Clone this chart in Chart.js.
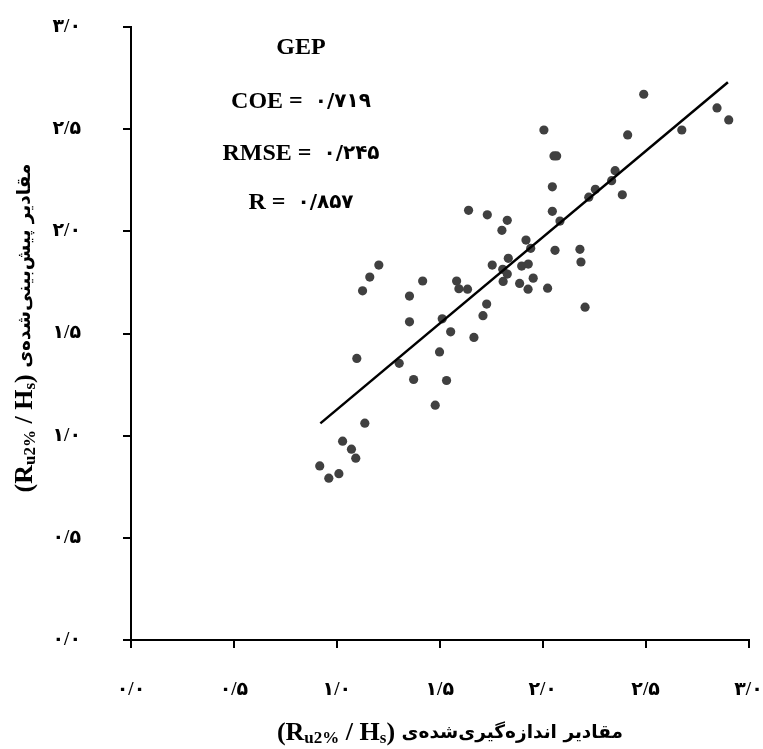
<!DOCTYPE html>
<html>
<head>
<meta charset="utf-8">
<script src="https://cdn.jsdelivr.net/npm/chart.js@4"></script>
<style>
    body { margin: 0; background: #fff; }
    #wrap { width: 763px; height: 749px; }
</style>
</head>
<body>
<div id="wrap"><canvas id="myChart" width="763" height="749"></canvas></div>
<script>
// --- DATA ---
// nilai terukur (sumbu x) dan prediksi GEP (sumbu y)
const xMeasured = [2.491, 2.847, 2.904, 2.676, 2.006, 2.413, 2.055, 2.068, 2.352, 2.335, 2.256, 2.224, 2.387, 2.047, 2.047, 2.084,
    1.640, 1.731, 1.828, 1.802, 1.919, 1.942, 2.060, 2.181, 2.186, 1.833, 1.755, 1.806, 1.898, 1.930, 1.828, 1.808,
    1.888, 1.954, 1.929, 2.024, 2.206, 1.204, 1.160, 1.125, 1.417, 1.582, 1.593, 1.635, 1.353, 1.728, 1.353, 1.512,
    1.710, 1.553, 1.666, 1.097, 1.303, 1.499, 1.373, 1.533, 1.478, 1.136, 1.028, 1.071, 1.092, 0.917, 0.961, 1.010];
const yPredicted = [2.671, 2.604, 2.545, 2.496, 2.496, 2.472, 2.369, 2.369, 2.297, 2.248, 2.206, 2.167, 2.179, 2.218, 2.098, 2.050,
    2.103, 2.081, 2.054, 2.005, 1.957, 1.917, 1.907, 1.912, 1.850, 1.868, 1.835, 1.814, 1.830, 1.840, 1.791, 1.755,
    1.745, 1.771, 1.717, 1.722, 1.629, 1.835, 1.776, 1.709, 1.757, 1.757, 1.719, 1.717, 1.683, 1.644, 1.557, 1.572,
    1.587, 1.508, 1.481, 1.378, 1.354, 1.410, 1.275, 1.270, 1.149, 1.061, 0.973, 0.934, 0.890, 0.852, 0.792, 0.814];

// garis tren (ujung)
const trendX = [0.92, 2.90];
const trendY = [1.06, 2.73];

const tickLabels = ['۰/۰', '۰/۵', '۱/۰', '۱/۵', '۲/۰', '۲/۵', '۳/۰'];

const modelName = 'GEP';
const statNames = ['COE', 'RMSE', 'R'];
const statValues = ['۰/۷۱۹', '۰/۲۴۵', '۰/۸۵۷'];

const xTitleFa = 'مقادیر اندازه‌گیری‌شده‌ی';
const yTitleFa = 'مقادیر پیش‌بینی‌شده‌ی';

// --- CONFIG ---
const FONT = "'Liberation Serif', 'Times New Roman', 'DejaVu Sans', serif";
const FA_FONT = "'DejaVu Sans', sans-serif";

const points = xMeasured.map((x, i) => ({ x: x, y: yPredicted[i] }));
const trend = trendX.map((x, i) => ({ x: x, y: trendY[i] }));

// tulis beberapa potongan teks berurutan, di tengah (cx, cy)
function drawRuns(ctx, cx, cy, rotate, parts) {
    ctx.save();
    ctx.translate(cx, cy);
    if (rotate) ctx.rotate(-Math.PI / 2);
    ctx.textBaseline = 'middle';
    ctx.textAlign = 'left';
    ctx.fillStyle = '#000';
    let total = 0;
    parts.forEach(p => { ctx.font = p.f; p.w = ctx.measureText(p.t).width; total += p.w; });
    let x = -total / 2;
    parts.forEach(p => {
        ctx.font = p.f;
        ctx.fillText(p.t, x, p.dy || 0);
        x += p.w;
    });
    ctx.restore();
}

// judul sumbu dengan subskrip: (R u2% / H s) + teks Persia
function axisTitleParts(faText) {
    const big = 'bold 26px ' + FONT;
    const small = 'bold 17px ' + FONT;
    return [
        { t: '(R', f: big },
        { t: 'u2%', f: small, dy: 6 },
        { t: ' / H', f: big },
        { t: 's', f: small, dy: 6 },
        { t: ') ', f: big },
        { t: faText, f: 'bold 18.5px ' + FA_FONT }
    ];
}

const decorPlugin = {
    id: 'decor',
    afterDraw(chart) {
        const ctx = chart.ctx;

        // judul sumbu
        drawRuns(ctx, 450, 733, false, axisTitleParts(xTitleFa));
        drawRuns(ctx, 25, 328, true, axisTitleParts(yTitleFa));

        // kotak statistik
        drawRuns(ctx, 301, 48, false, [{ t: modelName, f: 'bold 24px ' + FONT }]);
        const rows = [102, 154, 203];
        statNames.forEach((name, i) => {
            drawRuns(ctx, 301, rows[i], false, [
                { t: name + ' =  ', f: 'bold 24px ' + FONT },
                { t: statValues[i], f: 'bold 20px ' + FA_FONT }
            ]);
        });
    }
};

// --- CHART ---
const ctx = document.getElementById('myChart').getContext('2d');
const axisStyle = {
    type: 'linear',
    min: 0,
    max: 3,
    grid: { display: true, drawOnChartArea: false, drawTicks: true, tickLength: 8, color: '#000', lineWidth: 2 },
    border: { display: true, color: '#000', width: 2 }
};

new Chart(ctx, {
    type: 'scatter',
    data: {
        datasets: [{
            label: 'trend',
            data: trend,
            showLine: true,
            borderColor: '#000',
            borderWidth: 2.5,
            pointRadius: 0,
            fill: false
        }, {
            label: 'GEP',
            data: points,
            backgroundColor: '#404040',
            borderWidth: 0,
            pointRadius: 4.6
        }]
    },
    options: {
        responsive: false,
        animation: false,
        layout: { padding: { left: 0, right: 14.5, top: 27, bottom: 0 } },
        plugins: { legend: { display: false }, tooltip: { enabled: false } },
        scales: {
            x: Object.assign({}, axisStyle, {
                ticks: {
                    stepSize: 0.5, padding: 31, color: '#000', maxRotation: 0,
                    font: { family: FONT, size: 19, weight: 'bold' },
                    callback: (v, i) => tickLabels[i]
                },
                afterFit(scale) { scale.height = 109; scale.paddingLeft = 0; scale.paddingRight = 0; }
            }),
            y: Object.assign({}, axisStyle, {
                ticks: {
                    stepSize: 0.5, padding: 42, color: '#000',
                    font: { family: FONT, size: 19, weight: 'bold' },
                    callback: (v, i) => tickLabels[i]
                },
                afterFit(scale) { scale.width = 131; scale.paddingTop = 0; scale.paddingBottom = 0; }
            })
        }
    },
    plugins: [decorPlugin]
});
</script>
</body>
</html>
